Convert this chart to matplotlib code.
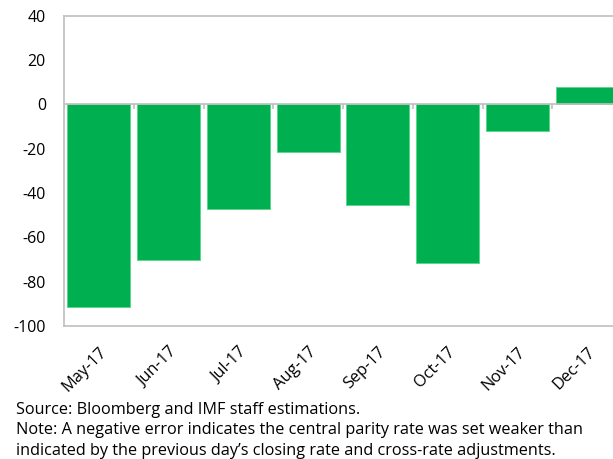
import numpy as np
import matplotlib.pyplot as plt

# monthly fixing error
months = ["May-17", "Jun-17", "Jul-17", "Aug-17", "Sep-17", "Oct-17", "Nov-17", "Dec-17"]
errors = [-91.5, -70, -47, -21.5, -45.5, -71.5, -12.2, 7.8]
yticks = [-100, -80, -60, -40, -20, 0, 20, 40]

source_text = "Source: Bloomberg and IMF staff estimations."
note_lines = ["Note: A negative error indicates the central parity rate was set weaker than",
              "indicated by the previous day\u2019s closing rate and cross-rate adjustments."]

plt.rcParams['font.family'] = ['Open Sans', 'DejaVu Sans']
grey = '#BFBFBF'

W, H = 613, 459
fig = plt.figure(figsize=(W / 100, H / 100), dpi=100)
# plot area runs a bit past the right edge like the original
left, right, top, bottom = 64, 622, 15.7, 326
ax = fig.add_axes([left / W, 1 - bottom / H, (right - left) / W, (bottom - top) / H])

x = np.arange(len(months))
ax.bar(x, errors, width=0.9, color='#00B050', edgecolor='#5AD68A', linewidth=0.7, zorder=2)

ax.set_xlim(-0.5, len(months) - 0.5)
ax.set_ylim(-100, 40)
ax.set_yticks(yticks)
ax.set_yticklabels([str(v) for v in yticks])

# zero line with small category ticks
ax.axhline(0, color=grey, lw=1.2, zorder=3)
bounds = np.arange(len(months) + 1) - 0.5
ax.vlines(bounds, -2.2, 0, color=grey, lw=1.2, zorder=3)

for s in ax.spines.values():
    s.set_color(grey)
    s.set_linewidth(1.2)

ax.set_xticks(x)
ax.set_xticklabels(months, rotation=45, ha='right', va='top', rotation_mode='anchor')
ax.tick_params(axis='x', length=0, pad=13, labelsize=11.8, colors='black')
ax.tick_params(axis='y', length=0, pad=13, labelsize=11.5, colors='black')

fs = 11.7
fig.text(16 / W, 1 - 414 / H, source_text, fontsize=fs, va='baseline', ha='left')
fig.text(16 / W, 1 - 434.5 / H, note_lines[0], fontsize=fs, va='baseline', ha='left')
fig.text(16 / W, 1 - 455 / H, note_lines[1], fontsize=fs, va='baseline', ha='left')

fig.savefig('out.png', dpi=100)
